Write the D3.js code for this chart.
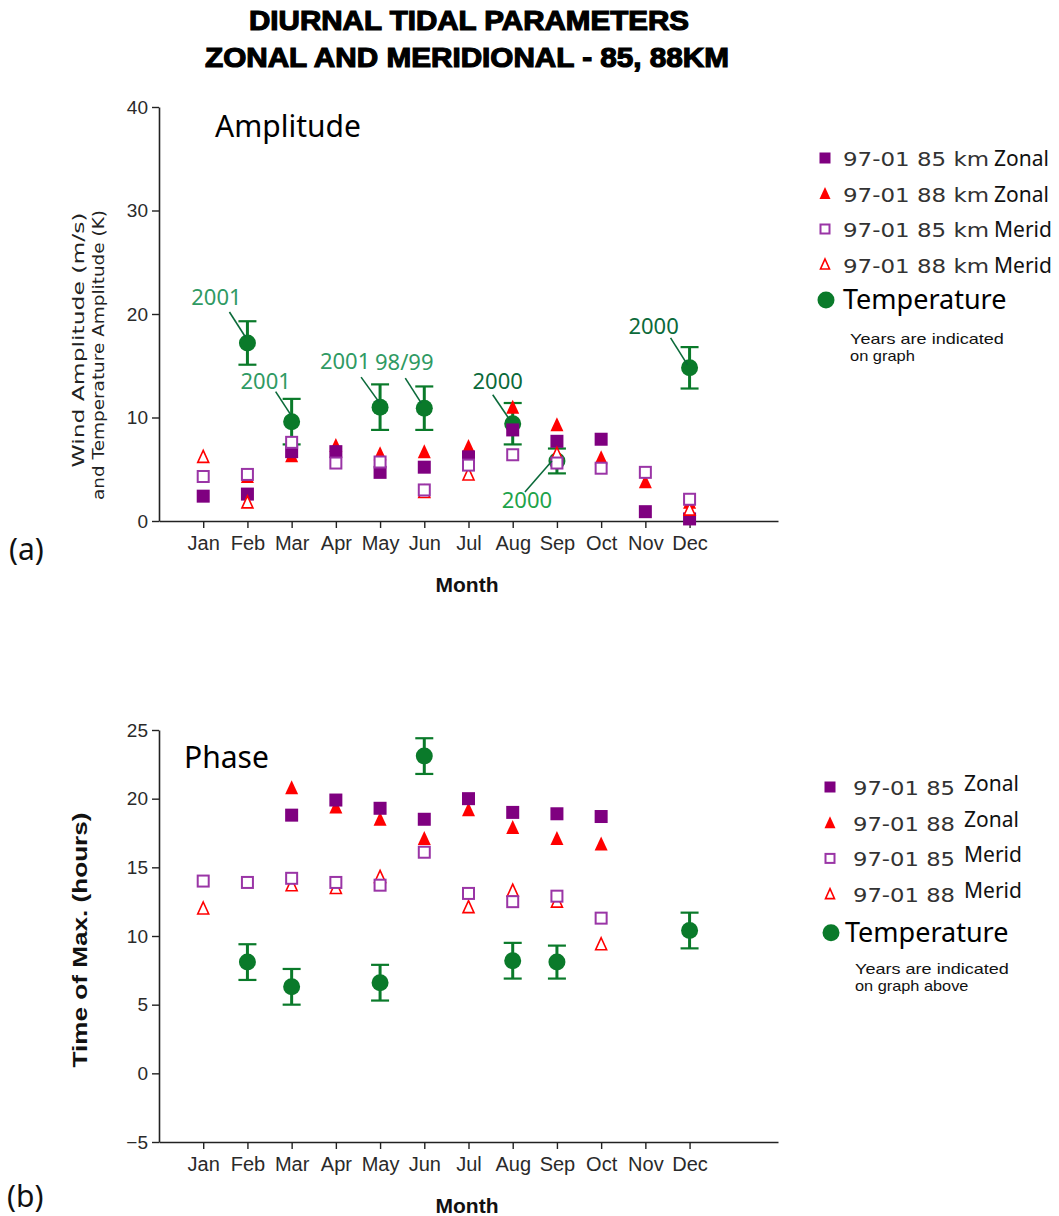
<!DOCTYPE html>
<html><head><meta charset="utf-8">
<script src="https://cdn.jsdelivr.net/npm/d3@7"></script>
<style>
body{margin:0;background:#fff;}
svg{display:block;}
</style></head>
<body>
<svg id="chart" width="1059" height="1216"></svg>
<script>
// ---------- data ----------
const months = ["Jan","Feb","Mar","Apr","May","Jun","Jul","Aug","Sep","Oct","Nov","Dec"];
const ampTicks = [0,10,20,30,40];
const phaseTicks = [-5,0,5,10,15,20,25];

// Amplitude (m/s, K)
const ampZonal85 = [2.4, 2.6, 6.7, 6.7, 4.7, 5.2, 6.2, 8.8, 7.7, 7.9, 0.9, 0.2];
const ampZonal88 = [null, 4.3, 6.3, 7.3, 6.5, 6.7, 7.2, 11.0, 9.3, 6.1, 3.8, 1.8];
const ampMerid85 = [4.3, 4.5, 7.6, 5.6, 5.7, 3.0, 5.4, 6.4, 5.6, 5.1, 4.7, 2.1];
const ampMerid88 = [6.2, 1.8, null, null, null, 2.8, 4.5, null, 6.5, null, null, 1.1];
const ampTemp    = [null, 17.2, 9.6, null, 11.0, 10.9, null, 9.4, 5.8, null, null, 14.8];
const ampTempErr = [null, 2.1, 2.2, null, 2.2, 2.1, null, 2.0, 1.2, null, null, 2.0];

// Phase (hours)
const phZonal85 = [null, null, 18.8, 19.9, 19.3, 18.5, 20.0, 19.0, 18.9, 18.7, null, null];
const phZonal88 = [null, null, 20.8, 19.4, 18.5, 17.1, 19.2, 17.9, 17.1, 16.7, null, null];
const phMerid85 = [14.0, 13.9, 14.2, 13.9, 13.7, 16.1, 13.1, 12.5, 12.9, 11.3, null, null];
const phMerid88 = [12.0, null, 13.7, 13.5, 14.3, null, 12.1, 13.3, 12.5, 9.4, null, null];
const phTemp    = [null, 8.1, 6.3, null, 6.6, 23.1, null, 8.2, 8.1, null, null, 10.4];
const phTempErr = [null, 1.3, 1.3, null, 1.3, 1.3, null, 1.3, 1.2, null, null, 1.3];

// Year annotations on the amplitude temperature points
const yearLabels = [
  {month:"Feb", text:"2001"},
  {month:"Mar", text:"2001"},
  {month:"May", text:"2001"},
  {month:"Jun", text:"98/99"},
  {month:"Aug", text:"2000"},
  {month:"Sep", text:"2000"},
  {month:"Dec", text:"2000"}
];
// label placement (pixel offsets from the point) and colours
const yearLabelLayout = {
  "Feb":{dx:-31, dy:-38, lx1:-18, ly1:-31, lx2:-2, ly2:-6, color:"#2f9a63"},
  "Mar":{dx:-26, dy:-33, lx1:-16, ly1:-30, lx2:-1, ly2:-7, color:"#2f9a63"},
  "May":{dx:-35, dy:-38, lx1:-19, ly1:-30, lx2:-1, ly2:-5, color:"#2f9a63"},
  "Jun":{dx:-20, dy:-38, lx1:-19, ly1:-30, lx2:-3, ly2:-5, color:"#2f9a63"},
  "Aug":{dx:-15, dy:-35, lx1:-20, ly1:-29, lx2:-3, ly2:-4, color:"#0b6a3a"},
  "Sep":{dx:-30, dy:47, lx1:-32, ly1:31, lx2:-5, ly2:0, color:"#1ea34a"},
  "Dec":{dx:-36, dy:-34, lx1:-19, ly1:-30, lx2:-2, ly2:-3, color:"#0b6a3a"}
};

const legendTop = [
  {sym:"fsq", a:"97-01 85 km", b:"Zonal"},
  {sym:"ftri", a:"97-01 88 km", b:"Zonal"},
  {sym:"osq", a:"97-01 85 km", b:"Merid"},
  {sym:"otri", a:"97-01 88 km", b:"Merid"}
];
const legendBottom = [
  {sym:"fsq", a:"97-01 85", b:"Zonal"},
  {sym:"ftri", a:"97-01 88", b:"Zonal"},
  {sym:"osq", a:"97-01 85", b:"Merid"},
  {sym:"otri", a:"97-01 88", b:"Merid"}
];

// ---------- style ----------
const PURPLE = "#7f0080", PURPLE_O = "#9a35a6", RED = "#ff0000", GREEN = "#0a7a2a";
const sans = "'Liberation Sans',Arial,sans-serif";
const human = "'Noto Sans','Open Sans',sans-serif";

const svg = d3.select("#chart");

const x = d3.scaleLinear().domain([0,14]).range([159,778]);

function marker(g, type, cx, cy, s){
  const h = s/2;
  if(type==="fsq"){
    g.append("rect").attr("x",cx-h).attr("y",cy-h).attr("width",s).attr("height",s).attr("fill",PURPLE);
  } else if(type==="osq"){
    g.append("rect").attr("x",cx-h+1).attr("y",cy-h+1).attr("width",s-2).attr("height",s-2)
      .attr("fill","#fff").attr("stroke",PURPLE_O).attr("stroke-width",2);
  } else if(type==="ftri"){
    g.append("path").attr("d",`M${cx},${cy-h-1}L${cx+h},${cy+h}L${cx-h},${cy+h}Z`).attr("fill",RED);
  } else if(type==="otri"){
    g.append("path").attr("d",`M${cx},${cy-h}L${cx+h-1},${cy+h-1}L${cx-h+1},${cy+h-1}Z`)
      .attr("fill","#fff").attr("stroke",RED).attr("stroke-width",1.6);
  } else if(type==="circ"){
    g.append("circle").attr("cx",cx).attr("cy",cy).attr("r",s/2).attr("fill",GREEN);
  }
}

function panel(cfg){
  const y = d3.scaleLinear().domain(cfg.domain).range(cfg.range);
  const g = svg.append("g");
  const ya = g.append("g").attr("transform",`translate(${x(0)},0)`)
    .call(d3.axisLeft(y).tickValues(cfg.ticks).tickSize(7).tickPadding(4).tickSizeOuter(0));
  const xa = g.append("g").attr("transform",`translate(0,${y(cfg.domain[0])})`)
    .call(d3.axisBottom(x).tickValues(d3.range(1,13)).tickFormat(i=>months[i-1]).tickSize(7).tickPadding(8).tickSizeOuter(0));
  [ya,xa].forEach(a=>{
    a.select(".domain").attr("stroke","#222").attr("stroke-width",1.6);
    a.selectAll(".tick line").attr("stroke","#222").attr("stroke-width",1.4);
    a.selectAll("text").attr("font-family",sans).attr("font-size",19).attr("fill","#2a2a2a");
  });
  xa.selectAll("text").attr("dy","0.72em").attr("font-size",20);

  const series = [
    {v:cfg.temp, type:"temp"},
    {v:cfg.z88, type:"ftri"},
    {v:cfg.z85, type:"fsq"},
    {v:cfg.m88, type:"otri"},
    {v:cfg.m85, type:"osq"}
  ];
  series.forEach(s=>{
    const sg = g.append("g");
    s.v.forEach((val,i)=>{
      if(val===null) return;
      const cx = x(i+1), cy = y(val);
      if(s.type==="temp"){
        const e = cfg.err[i];
        sg.append("line").attr("x1",cx).attr("x2",cx).attr("y1",y(val+e)).attr("y2",y(val-e))
          .attr("stroke",GREEN).attr("stroke-width",3);
        [val+e,val-e].forEach(t=>sg.append("line").attr("x1",cx-9).attr("x2",cx+9)
          .attr("y1",y(t)).attr("y2",y(t)).attr("stroke",GREEN).attr("stroke-width",2.2));
        marker(sg,"circ",cx,cy,17);
      } else {
        marker(sg,s.type,cx,cy,13);
      }
    });
  });
  return {g,y};
}

// ---------- Title ----------
const title = svg.append("g").attr("font-family",sans).attr("font-weight","bold")
  .attr("font-size",28).attr("text-anchor","middle").attr("fill","#000").attr("stroke","#000").attr("stroke-width",1.2);
title.append("text").attr("x",469).attr("y",30).attr("textLength",440).attr("lengthAdjust","spacingAndGlyphs").text("DIURNAL TIDAL PARAMETERS");
title.append("text").attr("x",467).attr("y",67).attr("textLength",524).attr("lengthAdjust","spacingAndGlyphs").text("ZONAL AND MERIDIONAL - 85, 88KM");

// ---------- Panel (a) ----------
const A = panel({domain:[0,40], range:[521,107], ticks:ampTicks,
  z85:ampZonal85, z88:ampZonal88, m85:ampMerid85, m88:ampMerid88, temp:ampTemp, err:ampTempErr});

A.g.append("text").attr("x",215).attr("y",137).attr("font-family",human).attr("font-size",30).text("Amplitude");

yearLabels.forEach(l=>{
  const i = months.indexOf(l.month);
  const cx = x(i+1), cy = A.y(ampTemp[i]);
  const L = yearLabelLayout[l.month];
  A.g.append("line").attr("x1",cx+L.lx1).attr("y1",cy+L.ly1).attr("x2",cx+L.lx2).attr("y2",cy+L.ly2)
    .attr("stroke","#0b6a3a").attr("stroke-width",1.6);
  A.g.append("text").attr("x",cx+L.dx).attr("y",cy+L.dy).attr("text-anchor","middle")
    .attr("font-family",human).attr("font-size",22).attr("fill",L.color).text(l.text);
});

const yl = A.g.append("g").attr("font-family","'DejaVu Sans',sans-serif").attr("font-size",16).attr("fill","#222").attr("text-anchor","middle");
yl.append("text").attr("transform","translate(84,340) rotate(-90)").attr("textLength",255).attr("lengthAdjust","spacingAndGlyphs").text("Wind Amplitude (m/s)");
yl.append("text").attr("transform","translate(104,355) rotate(-90)").attr("textLength",290).attr("lengthAdjust","spacingAndGlyphs").text("and Temperature Amplitude (K)");

A.g.append("text").attr("x",467).attr("y",592).attr("text-anchor","middle").attr("font-family",sans)
  .attr("font-weight","bold").attr("font-size",21).attr("fill","#111").text("Month");
svg.append("text").attr("x",9).attr("y",560).attr("font-family",human).attr("font-size",30).attr("fill","#111").text("(a)");

// ---------- Panel (b) ----------
const B = panel({domain:[-5,25], range:[1142,730], ticks:phaseTicks,
  z85:phZonal85, z88:phZonal88, m85:phMerid85, m88:phMerid88, temp:phTemp, err:phTempErr});

B.g.append("text").attr("x",184).attr("y",768).attr("font-family",human).attr("font-size",30).text("Phase");
B.g.append("text").attr("transform","translate(87,940) rotate(-90)").attr("text-anchor","middle")
  .attr("font-family",sans).attr("font-weight","bold").attr("font-size",21)
  .attr("textLength",255).attr("lengthAdjust","spacingAndGlyphs")
  .attr("fill","#111").text("Time of Max. (hours)");
B.g.append("text").attr("x",467).attr("y",1213).attr("text-anchor","middle").attr("font-family",sans)
  .attr("font-weight","bold").attr("font-size",21).attr("fill","#111").text("Month");
svg.append("text").attr("x",7).attr("y",1207).attr("font-family",human).attr("font-size",30).attr("fill","#111").text("(b)");

// ---------- Legends ----------
function legend(items, cfg){
  const g = svg.append("g");
  items.forEach((it,k)=>{
    const cy = cfg.y0 + k*cfg.dy;
    marker(g, it.sym, cfg.mx, cy, 11);
    g.append("text").attr("x",cfg.tx).attr("y",cy+8).attr("font-family","'DejaVu Sans',sans-serif")
      .attr("font-size",20).attr("fill","#333").attr("textLength",cfg.aLen).attr("lengthAdjust","spacingAndGlyphs").text(it.a);
    g.append("text").attr("x",cfg.bx).attr("y",cy+8+cfg.bdy).attr("font-family",human)
      .attr("font-size",21).attr("fill","#111").text(it.b);
  });
  const ty = cfg.y0 + 4*cfg.dy + cfg.tempDy;
  marker(g,"circ",cfg.cx,ty,17);
  g.append("text").attr("x",cfg.ttx).attr("y",ty+9).attr("font-family",human).attr("font-size",27).attr("fill","#000").text("Temperature");
  cfg.note.forEach((t,k)=>g.append("text").attr("x",cfg.nx).attr("y",ty+cfg.ndy+k*17)
    .attr("font-family",sans).attr("font-size",15).attr("fill","#111")
    .attr("textLength",t.length*8.1).attr("lengthAdjust","spacingAndGlyphs").text(t));
}
legend(legendTop,{y0:158, dy:35.5, mx:825, tx:843, aLen:146, bx:994, bdy:0, tempDy:0, cx:826, ttx:843,
  nx:850, ndy:44, note:["Years are indicated","on graph"]});
legend(legendBottom,{y0:787, dy:35.7, mx:830, tx:853, aLen:102, bx:964, bdy:-4, tempDy:3, cx:831, ttx:845,
  nx:855, ndy:41, note:["Years are indicated","on graph above"]});
</script>
</body></html>
